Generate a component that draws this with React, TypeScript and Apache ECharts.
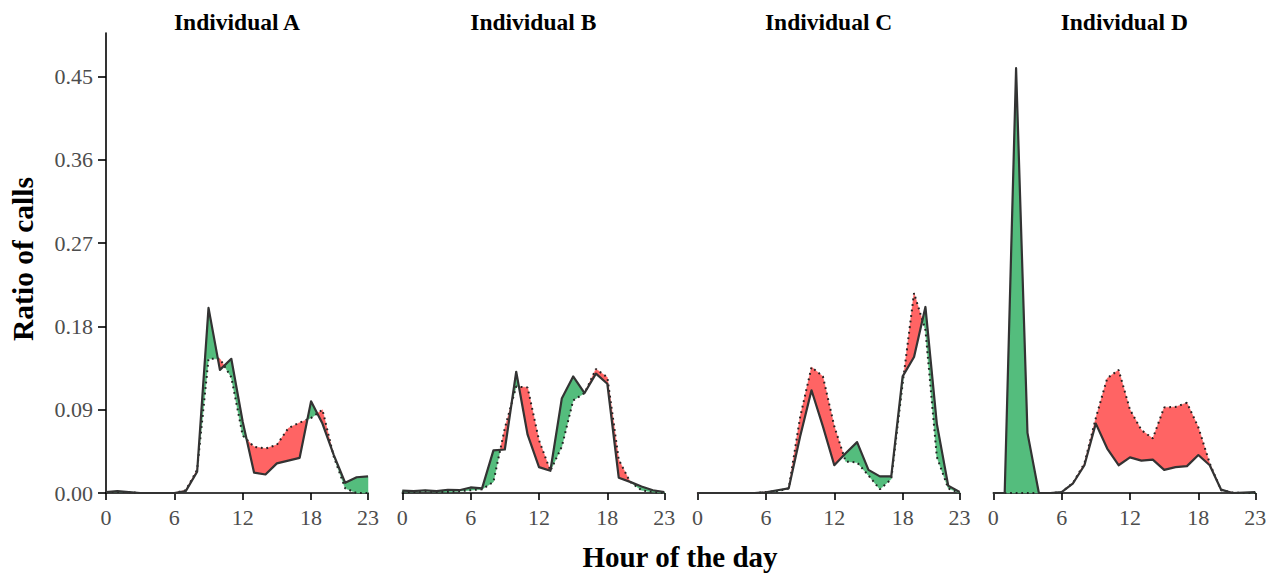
import React, { useEffect, useRef } from "react";
import * as echarts from "echarts";

const hours = [0, 1, 2, 3, 4, 5, 6, 7, 8, 9, 10, 11, 12, 13, 14, 15, 16, 17, 18, 19, 20, 21, 22, 23];
const panelNames = ["Individual A", "Individual B", "Individual C", "Individual D"];
const xTicks = [0, 6, 12, 18, 23];
const yTicks = [0, 0.09, 0.18, 0.27, 0.36, 0.45];

// solid line: observed ratio of calls
const obsA = [0.001, 0.002, 0.001, 0, 0, 0, 0, 0.002, 0.023, 0.2, 0.133, 0.145, 0.077, 0.022, 0.02, 0.032, 0.035, 0.038, 0.099, 0.075, 0.041, 0.011, 0.017, 0.018];
const obsB = [0.0025, 0.002, 0.003, 0.002, 0.0035, 0.003, 0.006, 0.005, 0.046, 0.047, 0.131, 0.063, 0.028, 0.024, 0.102, 0.126, 0.108, 0.129, 0.118, 0.0165, 0.012, 0.007, 0.003, 0.001];
const obsC = [0, 0, 0, 0, 0, 0, 0.0007, 0.003, 0.005, 0.061, 0.111, 0.072, 0.03, 0.043, 0.055, 0.025, 0.018, 0.018, 0.126, 0.147, 0.201, 0.075, 0.008, 0.001];
const obsD = [0, 0, 0.459, 0.065, 0, 0, 0.001, 0.0105, 0.03, 0.075, 0.048, 0.03, 0.0385, 0.035, 0.036, 0.025, 0.028, 0.029, 0.041, 0.03, 0.0036, 0, 0.0005, 0.001];

// dotted line: reference ratio of calls
const expA = [0.001, 0.001, 0.001, 0, 0, 0, 0, 0.003, 0.025, 0.145, 0.145, 0.125, 0.062, 0.05, 0.048, 0.052, 0.07, 0.076, 0.081, 0.09, 0.039, 0.005, 0, 0];
const expB = [0.001, 0.001, 0.002, 0.001, 0.001, 0.002, 0.003, 0.004, 0.012, 0.07, 0.115, 0.114, 0.057, 0.024, 0.05, 0.1, 0.108, 0.134, 0.125, 0.036, 0.012, 0.003, 0.001, 0];
const expC = [0, 0, 0, 0, 0, 0, 0.001, 0.002, 0.005, 0.082, 0.136, 0.126, 0.072, 0.034, 0.033, 0.019, 0.004, 0.015, 0.118, 0.216, 0.176, 0.039, 0.005, 0];
const expD = [0, 0, 0, 0, 0, 0, 0.001, 0.011, 0.032, 0.081, 0.124, 0.133, 0.09, 0.068, 0.059, 0.0925, 0.093, 0.0975, 0.071, 0.032, 0.003, 0.0005, 0, 0];

const observed = [obsA, obsB, obsC, obsD];
const expected = [expA, expB, expC, expD];

const GREEN = "#54BD7D";
const RED = "#FF6464";
const FONT = "'Liberation Serif', 'DejaVu Serif', serif";

type Region = { sign: number; top: number[][]; bot: number[][] };

function sgn(v: number) {
  if (Math.abs(v) < 1e-12) return 0;
  return v > 0 ? 1 : -1;
}

function buildRegions(s: number[], e: number[]): Region[] {
  const n = s.length;
  const diff = s.map((v, i) => v - e[i]);
  const regions: Region[] = [];
  let cur: Region = { sign: sgn(diff[0]), top: [[hours[0], s[0]]], bot: [[hours[0], e[0]]] };
  for (let i = 0; i < n - 1; i++) {
    const d0 = diff[i];
    const d1 = diff[i + 1];
    const sg1 = sgn(d1);
    if (cur.sign !== 0 && sg1 !== 0 && sg1 !== cur.sign) {
      const t = d0 / (d0 - d1);
      const xc = hours[i] + t * (hours[i + 1] - hours[i]);
      const yc = s[i] + t * (s[i + 1] - s[i]);
      cur.top.push([xc, yc]);
      cur.bot.push([xc, yc]);
      regions.push(cur);
      cur = { sign: sg1, top: [[xc, yc]], bot: [[xc, yc]] };
    } else if (cur.sign === 0 && sg1 !== 0) {
      cur.sign = sg1;
    }
    cur.top.push([hours[i + 1], s[i + 1]]);
    cur.bot.push([hours[i + 1], e[i + 1]]);
  }
  regions.push(cur);
  return regions.filter((r) => r.sign !== 0);
}

const GRID_LEFTS = [106, 402.3, 697.6, 993.3];
const GRID_W = 262;
const GRID_TOP = 33;
const GRID_H = 460;
const Y_MAX = 0.497;

export default function App() {
  const ref = useRef<HTMLDivElement>(null);
  useEffect(() => {
    if (!ref.current) return;
    const chart = echarts.init(ref.current, undefined, { renderer: "svg" });

    const grids: any[] = [];
    const xAxes: any[] = [];
    const yAxes: any[] = [];
    const series: any[] = [];
    const graphics: any[] = [];

    for (let p = 0; p < 4; p++) {
      grids.push({ left: GRID_LEFTS[p], top: GRID_TOP, width: GRID_W, height: GRID_H, containLabel: false });
      xAxes.push({
        type: "value",
        gridIndex: p,
        min: 0,
        max: 23,
        interval: 6,
        splitLine: { show: false },
        axisLine: { show: true, onZero: false, lineStyle: { color: "#000", width: 1.6 } },
        axisTick: { show: true, inside: false, length: 7, lineStyle: { color: "#000", width: 1.6 }, customValues: xTicks },
        axisLabel: { show: true, color: "#4D4D4D", fontSize: 22, fontFamily: FONT, margin: 13, customValues: xTicks, showMinLabel: true, showMaxLabel: true },
      });
      yAxes.push({
        type: "value",
        gridIndex: p,
        min: 0,
        max: Y_MAX,
        interval: 0.09,
        show: p === 0,
        splitLine: { show: false },
        axisLine: { show: p === 0, onZero: false, lineStyle: { color: "#000", width: 1.6 } },
        axisTick: { show: p === 0, inside: false, length: 8, lineStyle: { color: "#000", width: 1.6 }, customValues: yTicks },
        axisLabel: {
          show: p === 0,
          color: "#4D4D4D",
          fontSize: 22,
          fontFamily: FONT,
          margin: 13,
          customValues: yTicks,
          formatter: (v: number) => v.toFixed(2),
        },
      });

      const regions = buildRegions(observed[p], expected[p]);
      series.push({
        type: "custom",
        xAxisIndex: p,
        yAxisIndex: p,
        silent: true,
        z: 1,
        data: regions.map((r) => r.top[0]),
        renderItem: (params: any, api: any) => {
          const r = regions[params.dataIndex];
          const pts = r.top.concat(r.bot.slice().reverse()).map((pt) => api.coord(pt));
          const color = r.sign > 0 ? GREEN : RED;
          return {
            type: "polygon",
            shape: { points: pts },
            style: { fill: color, stroke: color, lineWidth: 0.5 },
          };
        },
      });
      series.push({
        type: "line",
        xAxisIndex: p,
        yAxisIndex: p,
        silent: true,
        z: 4,
        symbol: "none",
        data: hours.map((h, i) => [h, expected[p][i]]),
        lineStyle: { color: "#222", width: 2, type: [1.8, 3.8], cap: "butt" },
      });
      series.push({
        type: "line",
        xAxisIndex: p,
        yAxisIndex: p,
        silent: true,
        z: 5,
        symbol: "none",
        data: hours.map((h, i) => [h, observed[p][i]]),
        lineStyle: { color: "#333", width: 2.2, join: "round" },
      });

      graphics.push({
        type: "text",
        x: GRID_LEFTS[p] + GRID_W / 2,
        y: 22,
        style: {
          text: panelNames[p],
          fill: "#000",
          font: `bold 23.5px ${FONT}`,
          textAlign: "center",
          textVerticalAlign: "middle",
          align: "center",
          verticalAlign: "middle",
        },
      });
    }

    graphics.push({
      type: "text",
      x: 680,
      y: 557,
      style: {
        text: "Hour of the day",
        fill: "#000",
        font: `bold 29px ${FONT}`,
        textAlign: "center",
        textVerticalAlign: "middle",
        align: "center",
        verticalAlign: "middle",
      },
    });
    graphics.push({
      type: "text",
      x: 23,
      y: 259,
      rotation: Math.PI / 2,
      style: {
        text: "Ratio of calls",
        fill: "#000",
        font: `bold 29.5px ${FONT}`,
        textAlign: "center",
        textVerticalAlign: "middle",
        align: "center",
        verticalAlign: "middle",
      },
    });

    chart.setOption({
      animation: false,
      backgroundColor: "#fff",
      grid: grids,
      xAxis: xAxes,
      yAxis: yAxes,
      series,
      graphic: graphics,
    });
    return () => chart.dispose();
  }, []);

  return (
    <div
      ref={ref}
      style={{ position: "fixed", left: 0, top: 0, width: 1274, height: 575, background: "#fff" }}
    />
  );
}
